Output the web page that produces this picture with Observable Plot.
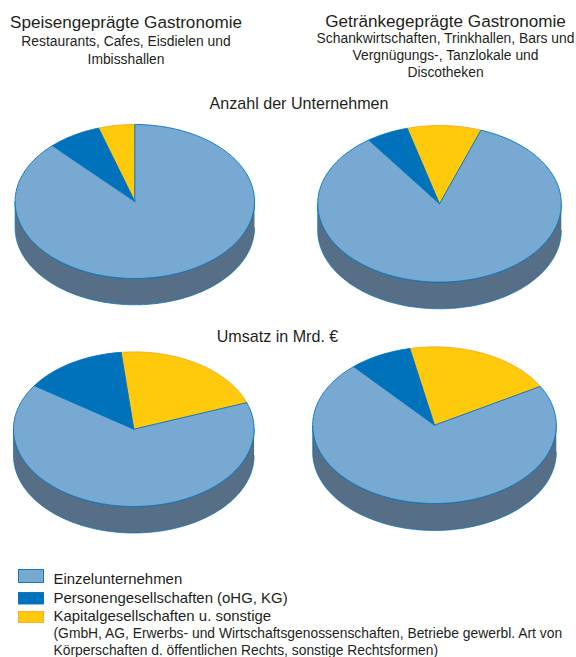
<!DOCTYPE html>
<html lang="de">
<head>
<meta charset="utf-8">
<script src="https://cdn.jsdelivr.net/npm/d3@7"></script>
<script src="https://cdn.jsdelivr.net/npm/@observablehq/plot@0.6"></script>
<style>html,body{margin:0;padding:0;background:#fff}svg{display:block}</style>
</head>
<body>
<div id="chart"></div>
<script>
// Data: percent shares per pie, clockwise from the first category
const categories = ["Einzelunternehmen", "Personengesellschaften (oHG, KG)", "Kapitalgesellschaften u. sonstige"];
const speiseAnzahl = [87.9, 7.2, 4.9];
const getraenkAnzahl = [84.6, 5.6, 9.8];
const speiseUmsatz = [65.1, 13.8, 21.1];
const getraenkUmsatz = [71.7, 8.3, 20.0];
const colors = ["#78a9d3", "#0072bc", "#ffc90c"];
const edges = ["#0072bc", "#0072bc", "#f7a823"];

// Layout of each pie in page units: centre, radii, depth, start angle
const pies = [
  {id: "a", values: speiseAnzahl,   cx: 134.3, cy: 201,   rx: 119.7, ry: 77,   depth: 26.3, start: 0},
  {id: "b", values: getraenkAnzahl, cx: 439,   cy: 203.3, rx: 121.8, ry: 78.3, depth: 26.7, start: 19.9},
  {id: "c", values: speiseUmsatz,   cx: 133.3, cy: 428.7, rx: 120.3, ry: 77.3, depth: 26.5, start: 69.9},
  {id: "d", values: getraenkUmsatz, cx: 434,   cy: 424.7, rx: 121.8, ry: 78.3, depth: 27,   start: 60.3}
];

const labels = [
  {t: "Speisengeprägte Gastronomie", x: 125.5, y: 22, s: 17.1, a: "middle"},
  {t: "Restaurants, Cafes, Eisdielen und", x: 125.5, y: 41.5, s: 13.85, a: "middle"},
  {t: "Imbisshallen", x: 125.5, y: 59, s: 13.85, a: "middle"},
  {t: "Getränkegeprägte Gastronomie", x: 445, y: 21, s: 17.1, a: "middle"},
  {t: "Schankwirtschaften, Trinkhallen, Bars und", x: 445, y: 38, s: 13.85, a: "middle"},
  {t: "Vergnügungs-, Tanzlokale und", x: 445, y: 55, s: 13.85, a: "middle"},
  {t: "Discotheken", x: 445, y: 72, s: 13.85, a: "middle"},
  {t: "Anzahl der Unternehmen", x: 298.5, y: 103.5, s: 16.1, a: "middle"},
  {t: "Umsatz in Mrd. €", x: 277, y: 336, s: 16.1, a: "middle"},
  {t: categories[0], x: 53, y: 578.5, s: 14.95, a: "start"},
  {t: categories[1], x: 53, y: 597.5, s: 14.95, a: "start"},
  {t: categories[2], x: 53, y: 616, s: 14.95, a: "start"},
  {t: "(GmbH, AG, Erwerbs- und Wirtschaftsgenossenschaften, Betriebe gewerbl. Art von", x: 53, y: 633.5, s: 13.85, a: "start"},
  {t: "Körperschaften d. öffentlichen Rechts, sonstige Rechtsformen)", x: 53, y: 650, s: 13.85, a: "start"}
];

const swatches = [
  {x1: 18.5, x2: 43.5, y1: 569.5, y2: 582.5, fill: colors[0], stroke: edges[0]},
  {x1: 18.5, x2: 43.5, y1: 592.5, y2: 604, fill: colors[1], stroke: edges[1]},
  {x1: 18.5, x2: 43.5, y1: 611.5, y2: 622.5, fill: colors[2], stroke: edges[2]}
];

const rad = d => d * Math.PI / 180;
const at = (p, deg, dy = 0) => ({
  x: p.cx + p.rx * Math.sin(rad(deg)),
  y: p.cy + dy - p.ry * Math.cos(rad(deg))
});

const sides = [];
const slices = [];
for (const p of pies) {
  // side wall: lower half of the top ellipse and lower half shifted down
  const up = d3.range(90, 270.5, 1).map(d => ({id: p.id, ...at(p, d, p.depth)}));
  const down = d3.range(270, 89.5, -1).map(d => ({id: p.id, ...at(p, d, 0)}));
  sides.push(...up, ...down);
  let a = p.start;
  p.values.forEach((v, i) => {
    const sweep = v * 3.6;
    const pts = [{x: p.cx, y: p.cy}];
    const n = Math.ceil(sweep);
    for (let k = 0; k <= n; k++) pts.push(at(p, a + sweep * k / n));
    pts.push({x: p.cx, y: p.cy});
    pts.forEach(q => slices.push({...q, key: p.id + i, cat: i, fill: colors[i], stroke: edges[i]}));
    a += sweep;
  });
}
// later categories are painted first so the large slice's outline stays on top
const sliceOrder = [2, 1, 0].flatMap(c => slices.filter(s => s.cat === c));

const chart = Plot.plot({
  width: 576, height: 657,
  margin: 0,
  x: {domain: [0, 576], range: [0, 576], axis: null},
  y: {domain: [0, 657], range: [0, 657], axis: null},
  color: {type: "identity"},
  marks: [
    Plot.line(sides, {x: "x", y: "y", z: "id", fill: "#566f87", stroke: "#0072bc", strokeWidth: 0.7, curve: "linear"}),
    Plot.line(sliceOrder, {x: "x", y: "y", z: "key", fill: "fill", stroke: "stroke", strokeWidth: 0.9, curve: "linear", strokeLinejoin: "round"}),
    Plot.rect(swatches, {x1: "x1", x2: "x2", y1: "y1", y2: "y2", fill: "fill", stroke: "stroke", strokeWidth: 0.9}),
    ...["middle", "start"].map(a => Plot.text(labels.filter(d => d.a === a), {
      x: "x", y: "y", text: "t", fontSize: "s", textAnchor: a, lineAnchor: "middle",
      fill: "#231f20", fontFamily: "'Liberation Sans', Arial, sans-serif"
    }))
  ]
});
document.getElementById("chart").append(chart);
</script>
</body>
</html>
